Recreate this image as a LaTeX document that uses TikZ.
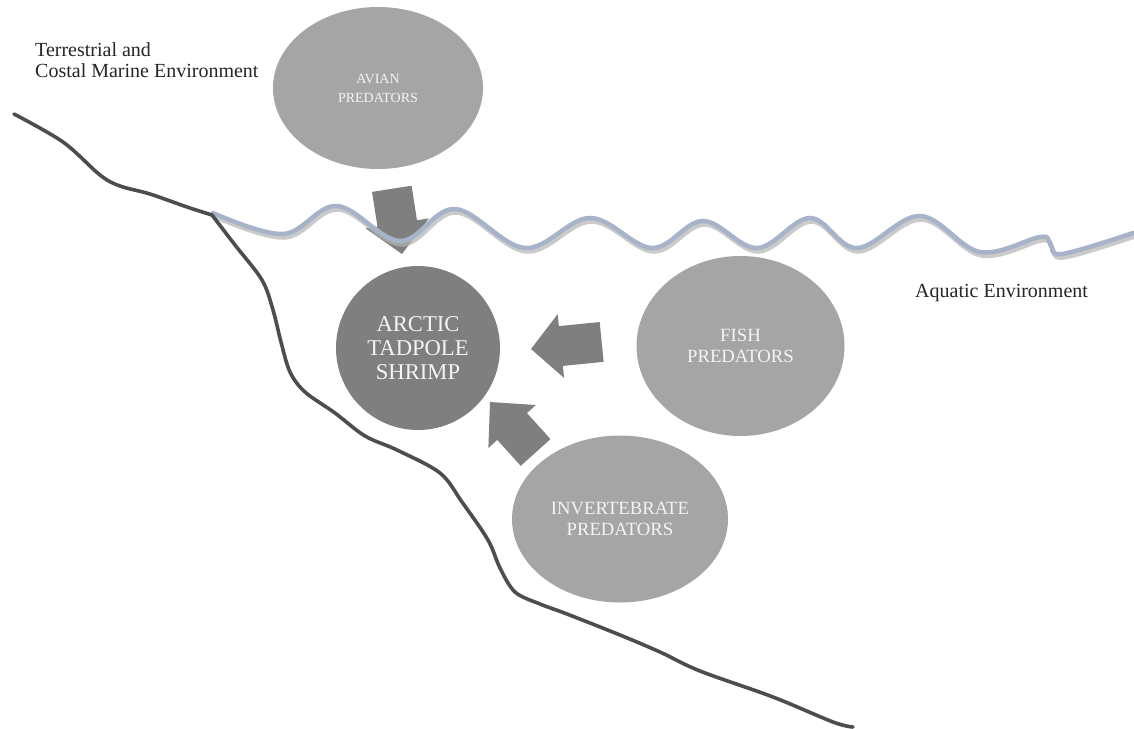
\documentclass[tikz,border=0pt]{standalone}
\usepackage{fontspec}
\setmainfont{Liberation Serif}
\usetikzlibrary{shapes.geometric}
\definecolor{predfill}{HTML}{A5A5A5}
\definecolor{shrimpfill}{HTML}{7F7F7F}
\definecolor{arrowfill}{HTML}{7F7F7F}
\definecolor{labeltext}{HTML}{F4F4F4}
\definecolor{wavecol}{HTML}{A6B3C9}
\definecolor{waveshadow}{HTML}{B4B4B4}
\definecolor{coastcol}{HTML}{4D4D4D}
\tikzset{
  pred/.style={ellipse, fill=predfill, text=labeltext, align=center, inner sep=0pt},
  shrimpnode/.style={circle, fill=shrimpfill, text=labeltext, align=center, inner sep=0pt, minimum size=164pt},
  envlabel/.style={text=black!85, inner sep=0pt, font=\fontsize{20}{21}\selectfont},
  blockarr/.style={fill=arrowfill},
  coast/.style={draw=coastcol, line width=3.6pt, line cap=round, line join=round},
  wave/.style={draw=wavecol, line width=4.5pt, line cap=round},
  waveshade/.style={draw=waveshadow, line width=4.5pt, line cap=round, opacity=0.7}
}
\newcommand\myblockarrow[5]{% tip, canvas angle, length, head length
  \fill[blockarr, shift={(#1)}, rotate=#2]
    (0,0) -- (-#4,32) -- (-#4,20) -- (-#3,20) -- (-#3,-20) -- (-#4,-20) -- (-#4,-32) -- cycle;}
\begin{document}
\begin{tikzpicture}[x=1pt,y=-1pt]
\useasboundingbox (0,0) rectangle (1134,728);
\fill[white] (0,0) rectangle (1134,728);

% predator ellipses and the shrimp
\node[pred, minimum width=210pt, minimum height=162pt, font=\fontsize{14}{19}\selectfont] (avian) at (378,88) {AVIAN\\PREDATORS};
\node[pred, minimum width=208pt, minimum height=180pt, font=\fontsize{18.7}{21}\selectfont] (fish) at (740.5,346) {FISH\\PREDATORS};
\node[pred, minimum width=216pt, minimum height=167pt, font=\fontsize{18.7}{21}\selectfont] (invert) at (620,519) {INVERTEBRATE\\PREDATORS};
\node[shrimpnode, font=\fontsize{22.6}{24}\selectfont] (shrimp) at (418,348) {ARCTIC\\TADPOLE\\SHRIMP};

% block arrows
\coordinate (avtip) at (402,254);
\coordinate (fishtip) at (531,349);
\coordinate (invtip) at (490,402);
\myblockarrow{avtip}{-81.1}{66}{31}{}
\myblockarrow{fishtip}{-174.3}{71}{30}{}
\myblockarrow{invtip}{132.1}{68}{33}{}

% water surface
\coordinate (shore) at (212,215);
\draw[waveshade, shift={(1.5,3.5)}] plot[smooth, tension=0.6] coordinates {(213,213) (283,234) (337,206) (400,241) (455,209) (525,248) (590,218) (652,248) (703,221) (757,248) (810,218) (857,248) (920,216) (980,252) (1040,237) (1050,243) (1062,254) (1133,233)};
\draw[wave] plot[smooth, tension=0.6] coordinates {(213,213) (283,234) (337,206) (400,241) (455,209) (525,248) (590,218) (652,248) (703,221) (757,248) (810,218) (857,248) (920,216) (980,252) (1040,237) (1050,243) (1062,254) (1133,233)};

% coast line
\draw[coast] plot[smooth, tension=0.55] coordinates {(14,114) (63,142) (100,175) (120,186) (150,194) (187,207) (shore)};
\draw[coast] plot[smooth, tension=0.55] coordinates {(shore) (235,245) (262,280) (273,310) (281,342) (290,372) (305,392) (335,413) (365,436) (397,450) (440,473) (462,502) (488,540) (500,568) (515,592) (540,604) (567,614) (620,635) (660,652) (700,671) (773,697) (833,722) (853,727)};

% environment labels
\node[envlabel, anchor=base west] (terr1) at (35,56) {Terrestrial and};
\node[envlabel, anchor=base west] (terr2) at (35,77) {Costal Marine Environment};
\node[envlabel, anchor=base west] (aqua) at (915,297) {Aquatic Environment};
\end{tikzpicture}
\end{document}
